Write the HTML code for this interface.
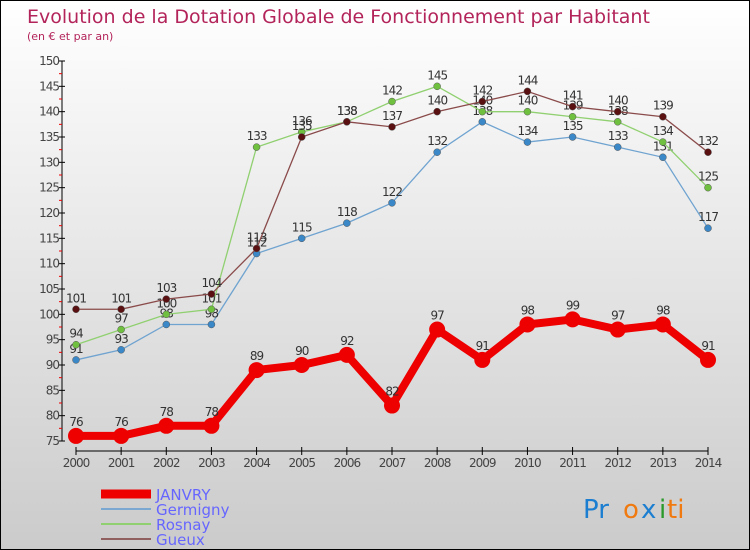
<!DOCTYPE html>
<html><head><meta charset="utf-8"><style>
body{margin:0;padding:0}
#c{width:748px;height:548px;border:1px solid #000;background:linear-gradient(#fff,#cbcbcb);position:relative;overflow:hidden;font-family:"DejaVu Sans","Liberation Sans",sans-serif}
</style></head><body>
<div id="c">
<svg id="s" width="748" height="548">
<text x="26" y="22" font-size="19" fill="#b3245a">Evolution de la Dotation Globale de Fonctionnement par Habitant</text>
<text x="26" y="39" font-size="11" fill="#b3245a">(en € et par an)</text>
<g id="axes"></g><g id="plot"></g>
<g>
<line x1="100" y1="493" x2="150" y2="493" stroke="#e00" stroke-width="9"/>
<text x="155" y="499" font-size="15" fill="#66f">JANVRY</text>
<line x1="100" y1="508" x2="150" y2="508" stroke="#7aa8d0" stroke-width="2"/>
<text x="155" y="514" font-size="15" fill="#66f">Germigny</text>
<line x1="100" y1="523" x2="150" y2="523" stroke="#90d070" stroke-width="2"/>
<text x="155" y="529" font-size="15" fill="#66f">Rosnay</text>
<line x1="100" y1="538" x2="150" y2="538" stroke="#906060" stroke-width="2"/>
<text x="155" y="544" font-size="15" fill="#66f">Gueux</text>
</g>
<g font-size="26" font-family="'DejaVu Sans',sans-serif">
<text x="582" y="517" fill="#1b7ed0">Pr</text><text x="622" y="517" fill="#f07a10">o</text><text x="640" y="517" fill="#1b7ed0">x</text><text x="658" y="517" fill="#2a9a2a">i</text><text x="666" y="517" fill="#f07a10">ti</text>
</g>
</svg></div>
<script>
const years=[2000,2001,2002,2003,2004,2005,2006,2007,2008,2009,2010,2011,2012,2013,2014];
const janvry=[76,76,78,78,89,90,92,82,97,91,98,99,97,98,91];
const germigny=[91,93,98,98,112,115,118,122,132,138,134,135,133,131,117];
const rosnay=[94,97,100,101,133,136,138,142,145,140,140,139,138,134,125];
const gueux=[101,101,103,104,113,135,138,137,140,142,144,141,140,139,132];
const yTicks=[75,80,85,90,95,100,105,110,115,120,125,130,135,140,145,150];
const NS="http://www.w3.org/2000/svg";
const X=i=>75+i*(632/14), Y=v=>440-(v-75)*(380/75);
function el(t,a,p){const e=document.createElementNS(NS,t);for(const k in a)e.setAttribute(k,a[k]);p.appendChild(e);return e;}
const ax=document.getElementById('axes'),pl=document.getElementById('plot');
let l=el('line',{x1:61,y1:60,x2:61,y2:440,stroke:'#000'},ax);

yTicks.forEach(v=>{el('line',{x1:58,y1:Y(v),x2:64,y2:Y(v),stroke:'#000'},ax);
if(v<150)el('line',{x1:58,y1:Y(v+2.5),x2:61,y2:Y(v+2.5),stroke:'#e00'},ax);
const t=el('text',{x:58,y:Y(v)+4,'font-size':12,fill:'#444','text-anchor':'end','letter-spacing':'-1'},ax);t.textContent=v;
});
l=el('line',{x1:75,y1:450,x2:707,y2:450,stroke:'#000'},ax);

years.forEach((y,i)=>{el('line',{x1:X(i),y1:446,x2:X(i),y2:454,stroke:'#000'},ax);
const t=el('text',{x:X(i),y:466,'font-size':12,fill:'#444','text-anchor':'middle','letter-spacing':'-1'},ax);t.textContent=y;
});
function series(d,name,col,lw,r,dot){
 const g=el('g',{},pl);
 const p=el('polyline',{points:d.map((v,i)=>X(i)+','+Y(v)).join(' '),fill:'none',stroke:col,'stroke-width':lw},g);
 
 d.forEach((v,i)=>{const c=el('circle',{cx:X(i),cy:Y(v),r:r,fill:dot,stroke:lw>3?'none':'#555','stroke-width':0.5},g);
 
 const t=el('text',{x:X(i),y:Y(v)-(lw>3?10:7),'font-size':12,fill:'#333','text-anchor':'middle','letter-spacing':'-1'},g);t.textContent=v;
 });
}
series(germigny,'germigny','#6fa3d0',1.3,3.5,'#3a88c8');
series(rosnay,'rosnay','#90d070',1.3,3.5,'#70c040');
series(gueux,'gueux','#8a4a4a',1.3,3.5,'#5a1010');
series(janvry,'janvry','#e00',8,8,'#e00');
</script></body></html>
